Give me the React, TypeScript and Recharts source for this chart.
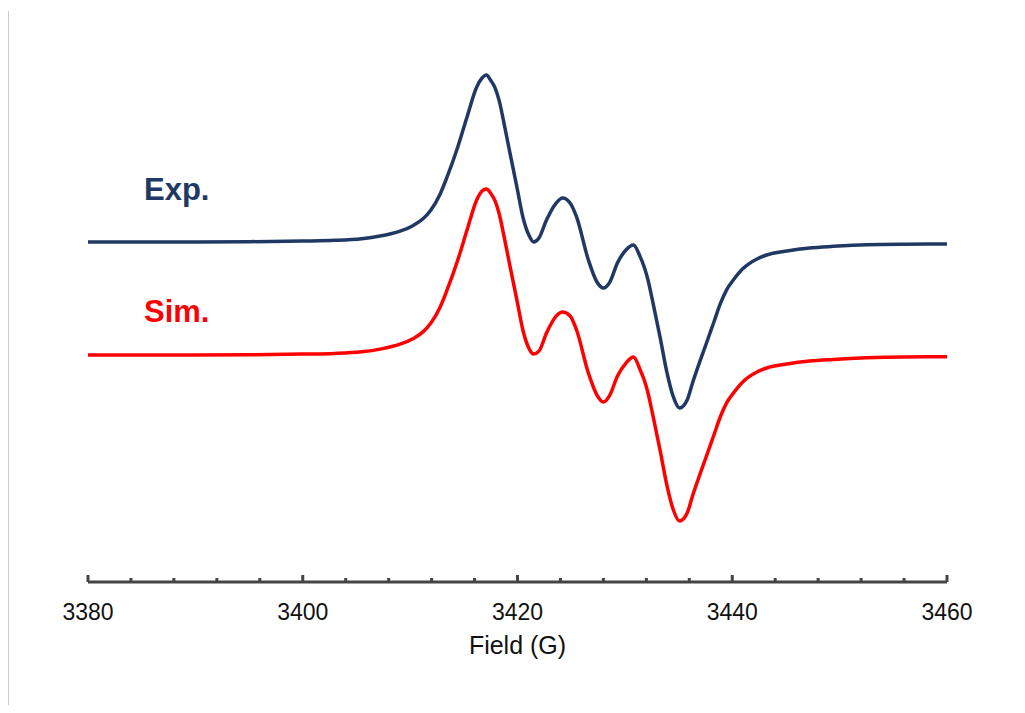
import React from "react";
import { LineChart, Line, XAxis, YAxis } from "recharts";

// magnetic field (G) at each read-off point
const FIELD = [
  3380, 3390, 3395, 3400, 3403, 3405.5, 3407.2, 3408.2, 3409.0, 3410.3,
  3411.2, 3411.9, 3412.8, 3413.4, 3414.4, 3415.3, 3416.2, 3416.7, 3417.1, 3417.5,
  3417.9, 3418.3, 3418.7, 3419.3, 3420.0, 3420.5, 3421.1, 3421.5, 3422.0, 3422.7,
  3423.6, 3424.2, 3424.9, 3425.5, 3426.6, 3427.4, 3428.0, 3428.6, 3429.3, 3430.1,
  3430.8, 3431.4, 3431.8, 3432.1, 3432.6, 3433.3, 3433.9, 3434.5, 3435.1, 3435.8,
  3436.3, 3437.6, 3438.3, 3438.9, 3439.5, 3440.1, 3441.0, 3442.3, 3443.2, 3445.1,
  3447.2, 3449.4, 3452.5, 3456.0, 3460,
];

// first-derivative signal, normalised (a.u.)
const EXP = [
  0, 0, 0.002, 0.006, 0.01, 0.02, 0.036, 0.05, 0.064, 0.1,
  0.14, 0.19, 0.29, 0.385, 0.565, 0.753, 0.934, 0.988, 1.006, 0.975,
  0.93, 0.85, 0.73, 0.536, 0.313, 0.151, 0.036, 0, 0.024, 0.133,
  0.235, 0.265, 0.235, 0.151, -0.108, -0.241, -0.277, -0.241, -0.127, -0.048,
  -0.018, -0.085, -0.15, -0.215, -0.36, -0.58, -0.78, -0.93, -1.0, -0.952,
  -0.849, -0.608, -0.48, -0.37, -0.285, -0.229, -0.16, -0.102, -0.078, -0.054,
  -0.036, -0.026, -0.016, -0.013, -0.012,
];

const SIM = [
  0, 0, 0.002, 0.006, 0.01, 0.02, 0.036, 0.05, 0.064, 0.1,
  0.14, 0.19, 0.29, 0.385, 0.565, 0.753, 0.934, 0.988, 1.0, 0.975,
  0.93, 0.85, 0.73, 0.536, 0.313, 0.151, 0.036, 0.006, 0.024, 0.133,
  0.235, 0.259, 0.235, 0.151, -0.108, -0.241, -0.283, -0.241, -0.127, -0.048,
  -0.012, -0.085, -0.15, -0.215, -0.36, -0.58, -0.78, -0.93, -1.0, -0.952,
  -0.849, -0.608, -0.48, -0.37, -0.285, -0.229, -0.16, -0.102, -0.078, -0.054,
  -0.036, -0.026, -0.016, -0.011, -0.01,
];

// vertical stacking of the two traces
const EXP_OFFSET = 0;
const SIM_OFFSET = -0.681;

const MAJOR_TICKS = [3380, 3400, 3420, 3440, 3460];
const ALL_TICKS = [
  3380, 3384, 3388, 3392, 3396, 3400, 3404, 3408, 3412, 3416, 3420,
  3424, 3428, 3432, 3436, 3440, 3444, 3448, 3452, 3456, 3460,
];

const NAVY = "#203864";
const RED = "#ff0000";
const AXIS = "#444444";
const FONT = "'Liberation Sans', Arial, sans-serif";

const data = FIELD.map((f, i) => ({
  field: f,
  exp: EXP[i] + EXP_OFFSET,
  sim: SIM[i] + SIM_OFFSET,
}));

const AxisTick = (props: any) => {
  const { x, y, payload } = props;
  const major = MAJOR_TICKS.includes(payload.value);
  return (
    <g>
      <line
        x1={x}
        x2={x}
        y1={y}
        y2={y - (major ? 7 : 4)}
        stroke={AXIS}
        strokeWidth={3}
      />
      {major && (
        <text
          x={x}
          y={y + 38}
          textAnchor="middle"
          fill="#111"
          fontSize={23}
          fontFamily={FONT}
        >
          {payload.value}
        </text>
      )}
    </g>
  );
};

export default function App() {
  return (
    <div style={{ position: "relative", width: 1009, height: 697 }}>
      <div
        style={{
          position: "absolute",
          left: 0,
          top: 3,
          width: 1,
          height: 702,
          background: "#cccccc",
        }}
      />
      <LineChart
        width={1009}
        height={697}
        data={data}
        margin={{ top: 35, right: 70, left: 80, bottom: 43 }}
      >
        <XAxis
          dataKey="field"
          type="number"
          domain={[3380, 3460]}
          ticks={ALL_TICKS}
          interval={0}
          tickSize={0}
          tickMargin={0}
          tickLine={false}
          axisLine={{ stroke: AXIS, strokeWidth: 3 }}
          tick={<AxisTick />}
          height={80}
          label={{
            value: "Field (G)",
            position: "insideBottom",
            offset: 8,
            fill: "#111",
            fontSize: 25,
            fontFamily: FONT,
          }}
        />
        <YAxis hide domain={[-2.048, 1.199]} allowDataOverflow />
        <Line
          dataKey="exp"
          type="monotone"
          stroke={NAVY}
          strokeWidth={3.5}
          dot={false}
          isAnimationActive={false}
        />
        <Line
          dataKey="sim"
          type="monotone"
          stroke={RED}
          strokeWidth={3.5}
          dot={false}
          isAnimationActive={false}
        />
      </LineChart>
      <div
        style={{
          position: "absolute",
          left: 136,
          top: 166,
          fontFamily: FONT,
          fontWeight: "bold",
          fontSize: 31,
          lineHeight: "31px",
          color: NAVY,
        }}
      >
        Exp.
      </div>
      <div
        style={{
          position: "absolute",
          left: 136,
          top: 288,
          fontFamily: FONT,
          fontWeight: "bold",
          fontSize: 31,
          lineHeight: "31px",
          color: RED,
        }}
      >
        Sim.
      </div>
    </div>
  );
}
